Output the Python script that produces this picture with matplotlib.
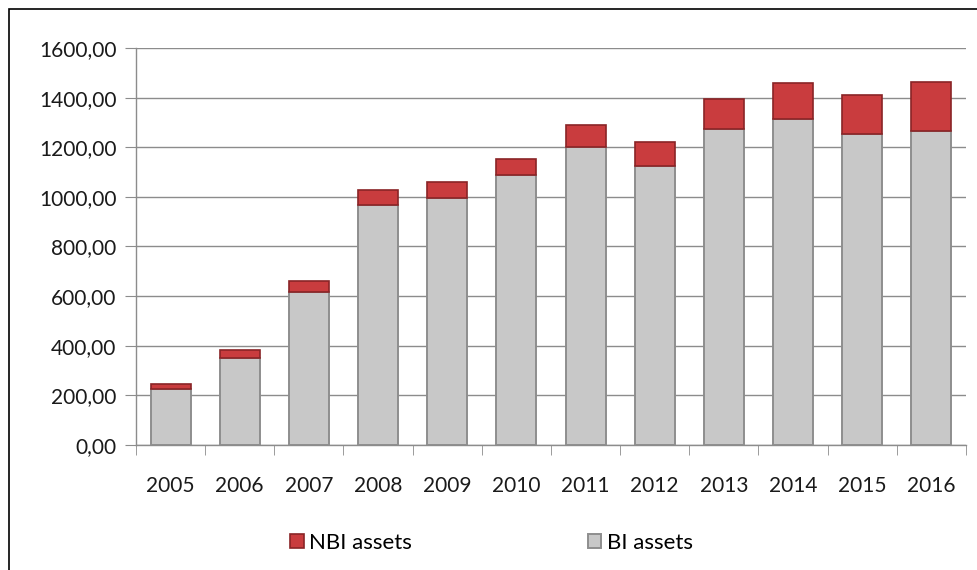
import numpy as np
import matplotlib.pyplot as plt
from matplotlib.patches import Rectangle

years = ['2005', '2006', '2007', '2008', '2009', '2010',
         '2011', '2012', '2013', '2014', '2015', '2016']
bi_assets = [226, 352, 617, 966, 997, 1087, 1203, 1123, 1272, 1313, 1253, 1266]
nbi_assets = [21, 31, 45, 63, 63, 67, 85, 99, 124, 145, 159, 198]

plt.rcParams['font.family'] = ['Lato', 'DejaVu Sans']

fig = plt.figure(figsize=(9.77, 5.70), dpi=100)
ax = fig.add_axes([0.1392, 0.2193, 0.8495, 0.6965])

x = np.arange(len(years))
w = 0.58
ax.bar(x, bi_assets, width=w, color='#c8c8c8', edgecolor='#8e8e8e',
       linewidth=1.4, zorder=3, label='BI assets')
ax.bar(x, nbi_assets, width=w, bottom=bi_assets, color='#c93c3e',
       edgecolor='#8a2426', linewidth=1.2, zorder=3, label='NBI assets')

ax.set_xlim(-0.5, len(years) - 0.5)
ax.set_ylim(0, 1600)
ax.set_yticks(np.arange(0, 1601, 200))
ax.set_yticklabels([f'{v},00' for v in range(0, 1601, 200)])
ax.set_xticks(x)
ax.set_xticklabels(years)
ax.set_xticks(np.arange(-0.5, len(years)), minor=True)

ax.grid(axis='y', color='#8c8c8c', linewidth=1.0, zorder=0)
for s in ['top', 'right']:
    ax.spines[s].set_visible(False)
for s in ['left', 'bottom']:
    ax.spines[s].set_color('#8c8c8c')
    ax.spines[s].set_linewidth(1.0)

ax.tick_params(axis='y', length=8, color='#8c8c8c', labelsize=15, pad=6,
               labelcolor='#1a1a1a')
ax.tick_params(axis='x', which='major', length=0, labelsize=15, pad=22,
               labelcolor='#1a1a1a')
ax.tick_params(axis='x', which='minor', length=7, color='#8c8c8c')

handles, labels = ax.get_legend_handles_labels()
fig.legend(handles[::-1], labels[::-1], loc='center', ncol=2,
           bbox_to_anchor=(0.503, 0.047), frameon=False, fontsize=16,
           handlelength=0.6, handleheight=0.6, handletextpad=0.25,
           columnspacing=7.9)

fig.patches.append(Rectangle((9 / 977, -0.01), 1.0, 1 - 9 / 570 + 0.01,
                             transform=fig.transFigure, fill=False,
                             edgecolor='black', linewidth=1.2))

fig.savefig('out.png', dpi=100)
